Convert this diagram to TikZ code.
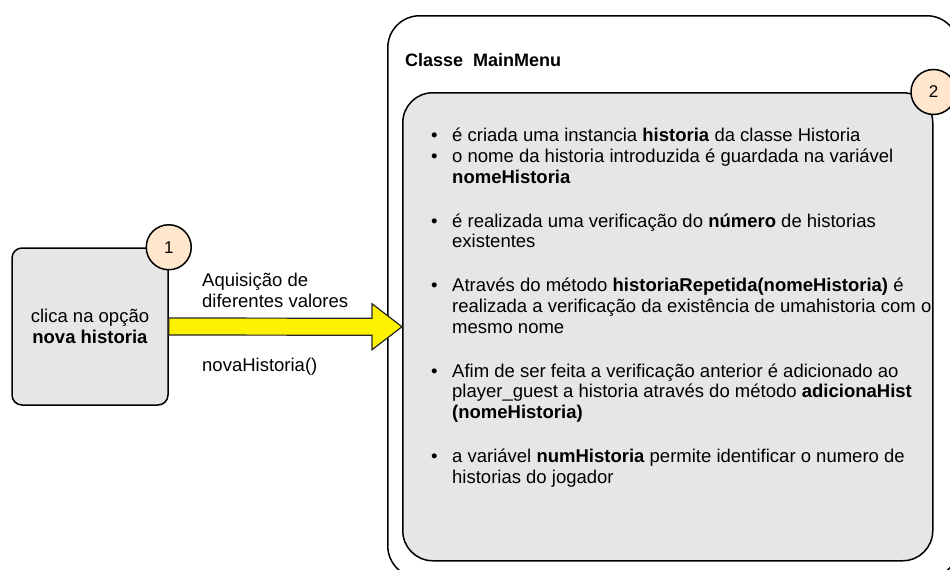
\documentclass[tikz,border=0pt]{standalone}
\usepackage{fontspec}
\setmainfont{Liberation Sans}
\usepackage{xcolor}
\usetikzlibrary{positioning}

\definecolor{boxgray}{HTML}{E6E6E6}
\definecolor{badgefill}{HTML}{FFE6CC}
\newcommand{\itm}{\makebox[21pt][l]{\textbullet}}
\newcommand{\cnt}{\hspace*{21pt}}

\begin{document}
\begin{tikzpicture}[x=1pt, y=-1pt,
  every node/.style={font=\fontsize{18.5}{20.7}\selectfont},
  graybox/.style={draw, line width=1.5pt, fill=boxgray},
  badge/.style={draw, circle, line width=1.5pt, fill=badgefill, minimum size=45pt, inner sep=0pt, font=\fontsize{17}{20}\selectfont},
  seta/.style={draw=black!85, line width=1.2pt, fill=yellow, line join=miter}]
\useasboundingbox (0,0) rectangle (950,570);
\clip (0,0) rectangle (950,570);

% lado esquerdo
\node[graybox, rounded corners=10pt, minimum width=156pt, minimum height=157pt, align=center] (clk) at (90,326.5) {clica na opção\\\textbf{nova historia}};
\node[badge] (n1) at (clk.north east) {1};

% classe MainMenu
\node[draw, line width=1.5pt, rounded corners=32pt, minimum width=571pt, minimum height=562pt, anchor=north west] (mainmenu) at (387,15) {};
\node[anchor=base west, inner sep=0pt, font=\fontsize{18}{20}\selectfont\bfseries] (titulo) at (405,66.7) {Classe\ \ MainMenu};
\node[graybox, rounded corners=30pt, minimum width=530pt, minimum height=468pt, anchor=north west] (corpo) at (402,92) {};
\node[badge] (n2) at (corpo.north east) {2};

% base = ultima linha
\node[anchor=base west, inner sep=0pt, align=left] (lista) at (431,483.3) {%
\itm é criada uma instancia \textbf{historia} da classe Historia\\
\itm o nome da historia introduzida é guardada na variável\\
\cnt\textbf{nomeHistoria}\\[23.3pt]
\itm é realizada uma verificação do \textbf{número} de historias\\
\cnt existentes\\[23.3pt]
\itm Através do método \textbf{historiaRepetida(nomeHistoria)} é\\
\cnt realizada a verificação da existência de umahistoria com o\\
\cnt mesmo nome\\[23.3pt]
\itm Afim de ser feita a verificação anterior é adicionado ao\\
\cnt player\_guest a historia através do método \textbf{adicionaHist}\\
\cnt\textbf{(nomeHistoria)}\\[23.3pt]
\itm a variável \textbf{numHistoria} permite identificar o numero de\\
\cnt historias do jogador};

% seta amarela
\draw[seta] ([yshift=8.5pt]clk.east) -- ([xshift=-30pt,yshift=8.5pt]corpo.west) -- ([xshift=-30pt,yshift=23pt]corpo.west)
  -- (corpo.west) -- ([xshift=-30pt,yshift=-23pt]corpo.west) -- ([xshift=-30pt,yshift=-8.5pt]corpo.west) -- ([yshift=-8.5pt]clk.east) -- cycle;
\node[anchor=base west, inner sep=0pt, align=left] (aquis) at (202,307.3) {Aquisição de\\diferentes valores};
\node[anchor=base west, inner sep=0pt] (metodo) at (202,371.7) {novaHistoria()};
\end{tikzpicture}
\end{document}
